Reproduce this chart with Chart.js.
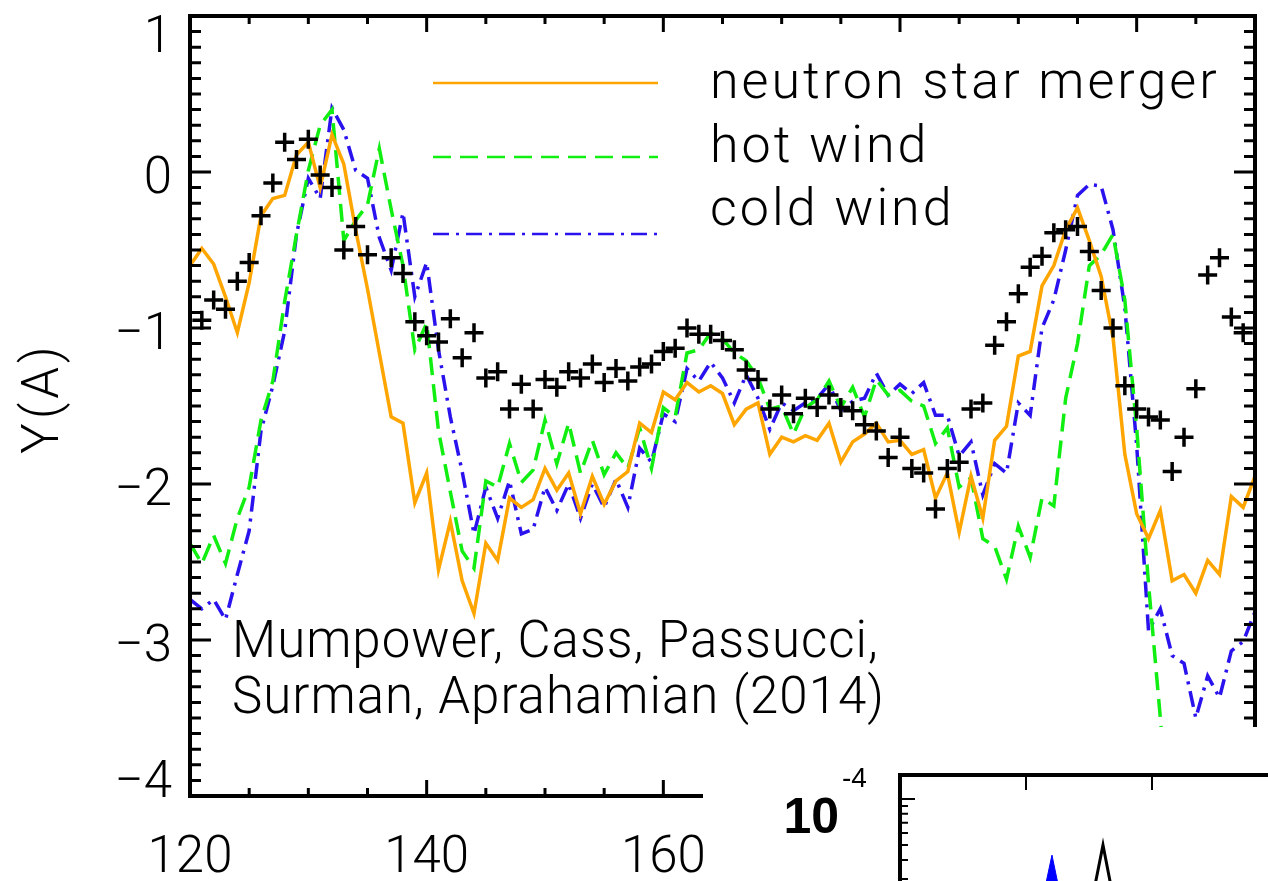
<!DOCTYPE html>
<html>
<head>
<meta charset="utf-8">
<script src="https://cdn.jsdelivr.net/npm/chart.js@4.4.0/dist/chart.umd.min.js"></script>
<style>
html, body { margin: 0; padding: 0; background: #fff; overflow: hidden; }
#wrap { position: relative; width: 1268px; height: 881px; }
#main { position: absolute; left: 0; top: 0; }
#inset { position: absolute; left: 703px; top: 727px; background: #fff; }
</style>
</head>
<body>
<div id="wrap">
  <canvas id="main" width="1268" height="881"></canvas>
  <canvas id="inset" width="575" height="260"></canvas>
</div>
<script>
// mass number A
var massNumbers = [120,121,122,123,124,125,126,127,128,129,
  130,131,132,133,134,135,136,137,138,139,
  140,141,142,143,144,145,146,147,148,149,
  150,151,152,153,154,155,156,157,158,159,
  160,161,162,163,164,165,166,167,168,169,
  170,171,172,173,174,175,176,177,178,179,
  180,181,182,183,184,185,186,187,188,189,
  190,191,192,193,194,195,196,197,198,199,
  200,201,202,203,204,205,206,207,208,209,
  210];

// log10 Y(A) per scenario
var mergerY = [-0.60,-0.49,-0.59,-0.80,-1.03,-0.71,-0.28,-0.17,-0.15,0.11,
  0.19,-0.10,0.24,0.05,-0.37,-0.75,-1.16,-1.57,-1.61,-2.12,
  -1.93,-2.55,-2.24,-2.62,-2.83,-2.38,-2.49,-2.09,-2.15,-2.10,
  -1.90,-2.04,-1.93,-2.19,-1.95,-2.13,-1.98,-1.92,-1.61,-1.67,
  -1.41,-1.46,-1.35,-1.41,-1.37,-1.42,-1.62,-1.52,-1.48,-1.81,
  -1.70,-1.73,-1.69,-1.72,-1.61,-1.86,-1.73,-1.68,-1.61,-1.73,
  -1.72,-1.81,-1.78,-2.09,-1.93,-2.31,-1.95,-2.22,-1.72,-1.63,
  -1.18,-1.15,-0.73,-0.60,-0.37,-0.23,-0.44,-0.67,-1.06,-1.81,
  -2.19,-2.35,-2.17,-2.62,-2.58,-2.70,-2.49,-2.58,-2.08,-2.15,
  -1.95];

var hotWindY = [-2.38,-2.51,-2.33,-2.51,-2.22,-2.02,-1.59,-1.34,-0.83,-0.40,
  0.01,0.30,0.40,-0.44,-0.31,-0.21,0.15,-0.24,-0.60,-1.14,
  -0.97,-1.66,-2.05,-2.43,-2.54,-1.98,-2.02,-1.74,-1.99,-1.91,
  -1.59,-1.87,-1.61,-1.93,-1.72,-1.94,-1.80,-1.90,-1.64,-1.90,
  -1.51,-1.57,-1.16,-1.14,-1.03,-1.07,-1.16,-1.21,-1.32,-1.52,
  -1.50,-1.68,-1.51,-1.46,-1.34,-1.51,-1.38,-1.57,-1.33,-1.43,
  -1.40,-1.47,-1.50,-1.74,-1.64,-2.02,-1.96,-2.35,-2.40,-2.61,
  -2.27,-2.47,-2.09,-2.14,-1.45,-1.10,-0.60,-0.53,-0.40,-0.82,
  -1.64,-2.64,-3.50,-4.40,null,null,null,null,null,null,
  null];

var coldWindY = [-2.74,-2.80,-2.74,-2.87,-2.58,-2.30,-1.66,-1.37,-1.02,-0.40,
  -0.04,-0.17,0.41,0.27,0.01,-0.04,-0.42,-0.63,-0.26,-0.80,
  -0.58,-1.14,-1.57,-1.92,-2.32,-2.02,-2.22,-1.98,-2.32,-2.29,
  -2.02,-2.17,-2.00,-2.22,-2.00,-2.15,-1.97,-2.15,-1.77,-1.86,
  -1.55,-1.60,-1.26,-1.34,-1.22,-1.32,-1.48,-1.30,-1.45,-1.65,
  -1.48,-1.53,-1.48,-1.45,-1.36,-1.53,-1.47,-1.45,-1.29,-1.43,
  -1.36,-1.42,-1.35,-1.56,-1.56,-1.82,-1.73,-2.07,-1.87,-1.93,
  -1.48,-1.56,-1.00,-0.82,-0.50,-0.15,-0.08,-0.09,-0.37,-0.87,
  -1.75,-2.94,-2.80,-3.10,-3.15,-3.50,-3.23,-3.37,-3.07,-3.01,
  -2.82];

var solarY = [null,-0.95,-0.82,-0.88,-0.70,-0.58,-0.28,-0.07,0.19,0.08,
  0.21,-0.02,-0.10,-0.50,-0.35,-0.53,null,-0.55,-0.65,-0.96,
  -1.05,-1.09,-0.94,-1.19,-1.03,-1.32,-1.28,-1.52,-1.36,-1.52,
  -1.33,-1.38,-1.28,-1.32,-1.23,-1.35,-1.26,-1.34,-1.25,-1.23,
  -1.15,-1.13,-1.00,-1.04,-1.04,-1.08,-1.14,-1.27,-1.33,-1.52,
  -1.43,-1.55,-1.45,-1.51,-1.43,-1.51,-1.53,-1.62,-1.66,-1.83,
  -1.70,-1.90,-1.93,-2.16,-1.90,-1.86,-1.52,-1.48,-1.11,-0.96,
  -0.78,-0.61,-0.54,-0.39,-0.37,-0.35,-0.51,-0.76,-1.00,-1.37,
  -1.52,-1.57,-1.59,-1.92,-1.70,-1.39,-0.66,-0.55,-0.93,-1.03,
  null];

var xTickLabels = [120, 140, 160, 180, 200];
var yTickLabels = [1, 0, -1, -2, -3, -4];

// inset (partly visible)
var insetBlueX = [0.90, 1.12, 1.206, 1.29, 1.50];
var insetBlueY = [1.2e-5, 2.0e-5, 4.3e-5, 2.0e-5, 1.2e-5];
var insetBlackX = [1.30, 1.52, 1.611, 1.70, 1.95];
var insetBlackY = [1.2e-5, 2.1e-5, 5.0e-5, 2.1e-5, 1.2e-5];

var FONT = "Roboto, 'Liberation Sans', sans-serif";

function pairs(xs, ys) {
  var out = [];
  for (var i = 0; i < xs.length; i++) out.push({x: xs[i], y: ys[i]});
  return out;
}

var frameAxes = {
  id: 'frameAxes',
  afterDraw: function(chart) {
    var ctx = chart.ctx, a = chart.chartArea;
    var xs = chart.scales.x, ys = chart.scales.y;
    ctx.save();
    ctx.strokeStyle = '#000';
    ctx.lineWidth = 3;
    ctx.beginPath();
    for (var v = 120; v <= 210; v += 5) {
      var px = xs.getPixelForValue(v);
      var len = (v % 20 === 0) ? 16 : 8;
      ctx.moveTo(px, a.bottom); ctx.lineTo(px, a.bottom - len);
      ctx.moveTo(px, a.top); ctx.lineTo(px, a.top + len);
    }
    for (var i = -40; i <= 10; i++) {
      var py = ys.getPixelForValue(i / 10);
      var l = (i % 10 === 0) ? 21 : 11;
      ctx.moveTo(a.left, py); ctx.lineTo(a.left + l, py);
      ctx.moveTo(a.right, py); ctx.lineTo(a.right - l, py);
    }
    ctx.stroke();
    ctx.lineWidth = 4;
    ctx.strokeRect(a.left, a.top, a.right - a.left, a.bottom - a.top);

    // tick labels
    ctx.fillStyle = '#000';
    ctx.font = '300 51px ' + FONT;
    ctx.textAlign = 'center';
    ctx.textBaseline = 'alphabetic';
    xTickLabels.forEach(function(t) {
      ctx.fillText(String(t), xs.getPixelForValue(t), 872);
    });
    ctx.textAlign = 'right';
    yTickLabels.forEach(function(t) {
      var py = ys.getPixelForValue(t) + 21;
      py = Math.max(a.top + 36, Math.min(a.bottom + 1, py));
      ctx.fillText(t < 0 ? '\u2212' + Math.abs(t) : String(t), 172, py);
    });

    // axis title
    ctx.save();
    ctx.translate(58, 398);
    ctx.rotate(-Math.PI / 2);
    ctx.textAlign = 'center';
    ctx.letterSpacing = '4px';
    ctx.fillText('Y(A)', 0, 0);
    ctx.restore();

    // legend
    var rows = [[83, 98], [157, 162], [234, 225]];
    var k = 0;
    chart.data.datasets.forEach(function(ds) {
      if (!ds.label) return;
      var r = rows[k++];
      ctx.strokeStyle = ds.borderColor;
      ctx.lineWidth = 2.5;
      ctx.setLineDash(ds.borderDash || []);
      ctx.beginPath();
      ctx.moveTo(433, r[0]); ctx.lineTo(658, r[0]);
      ctx.stroke();
      ctx.setLineDash([]);
      ctx.textAlign = 'left';
      ctx.font = '300 52px ' + FONT;
      ctx.letterSpacing = '3px';
      ctx.fillText(ds.label, 710, r[1]);
    });

    // citation
    ctx.font = '300 51px ' + FONT;
    ctx.letterSpacing = '1px';
    ctx.fillText('Mumpower, Cass, Passucci,', 232, 657);
    ctx.fillText('Surman, Aprahamian (2014)', 232, 713);
    ctx.letterSpacing = '0px';
    ctx.restore();
  }
};

new Chart(document.getElementById('main'), {
  type: 'line',
  data: {
    labels: massNumbers,
    datasets: [
      {
        label: '',
        data: pairs(massNumbers, solarY),
        showLine: false,
        pointStyle: 'cross',
        pointRadius: 9.5,
        pointBorderWidth: 3.5,
        borderColor: '#000',
        backgroundColor: '#000'
      },
      {
        label: 'neutron star merger',
        data: pairs(massNumbers, mergerY),
        borderColor: '#ffa500',
        borderWidth: 3.5,
        pointRadius: 0,
        tension: 0
      },
      {
        label: 'hot wind',
        data: pairs(massNumbers, hotWindY),
        borderColor: '#11ee11',
        borderWidth: 3.5,
        borderDash: [18, 9],
        pointRadius: 0,
        tension: 0
      },
      {
        label: 'cold wind',
        data: pairs(massNumbers, coldWindY),
        borderColor: '#2a12ee',
        borderWidth: 3.5,
        borderDash: [16, 7, 3, 7],
        pointRadius: 0,
        tension: 0
      }
    ]
  },
  options: {
    responsive: false,
    animation: false,
    events: [],
    layout: { padding: { left: 190, top: 16, right: 10, bottom: 85 } },
    plugins: { legend: { display: false }, tooltip: { enabled: false } },
    scales: {
      x: { type: 'linear', min: 120, max: 210, display: false },
      y: { type: 'linear', min: -4, max: 1, display: false }
    }
  },
  plugins: [frameAxes]
});

var insetAxes = {
  id: 'insetAxes',
  afterDraw: function(chart) {
    var ctx = chart.ctx, a = chart.chartArea;
    var xs = chart.scales.x, ys = chart.scales.y;
    ctx.save();
    ctx.strokeStyle = '#000';
    ctx.lineWidth = 2;
    ctx.beginPath();
    [1, 2].forEach(function(v) {
      var px = xs.getPixelForValue(v);
      ctx.moveTo(px, a.top); ctx.lineTo(px, a.top + 15);
    });
    for (var m = 2; m <= 10; m++) {
      var py = ys.getPixelForValue(m * 1e-5);
      var l = (m === 10) ? 15 : 8;
      ctx.moveTo(a.left, py); ctx.lineTo(a.left + l, py);
    }
    ctx.stroke();
    ctx.lineWidth = 4;
    ctx.strokeRect(a.left, a.top, a.right - a.left, a.bottom - a.top);

    var yTop = ys.getPixelForValue(1e-4);
    ctx.fillStyle = '#000';
    ctx.textBaseline = 'alphabetic';
    ctx.textAlign = 'right';
    ctx.font = 'bold 50px "Liberation Sans Narrow", "Liberation Sans", sans-serif';
    ctx.fillText('10', 136, yTop + 34);
    ctx.textAlign = 'left';
    ctx.font = '28px "Liberation Sans", sans-serif';
    ctx.fillText('-4', 139, yTop - 12);
    ctx.restore();
  }
};

new Chart(document.getElementById('inset'), {
  type: 'line',
  data: {
    datasets: [
      {
        data: pairs(insetBlackX, insetBlackY),
        borderColor: '#000',
        borderWidth: 3,
        pointRadius: 0,
        tension: 0
      },
      {
        data: pairs(insetBlueX, insetBlueY),
        borderColor: '#0000ff',
        backgroundColor: '#0000ff',
        borderWidth: 1,
        fill: 'start',
        pointRadius: 0,
        tension: 0
      }
    ]
  },
  options: {
    responsive: false,
    animation: false,
    events: [],
    layout: { padding: { left: 197, top: 48, right: 0, bottom: 35 } },
    plugins: { legend: { display: false }, tooltip: { enabled: false } },
    scales: {
      x: { type: 'linear', min: 0, max: 3, display: false },
      y: { type: 'logarithmic', min: 1e-5, max: 1.436e-4, display: false }
    }
  },
  plugins: [insetAxes]
});
</script>
</body>
</html>
